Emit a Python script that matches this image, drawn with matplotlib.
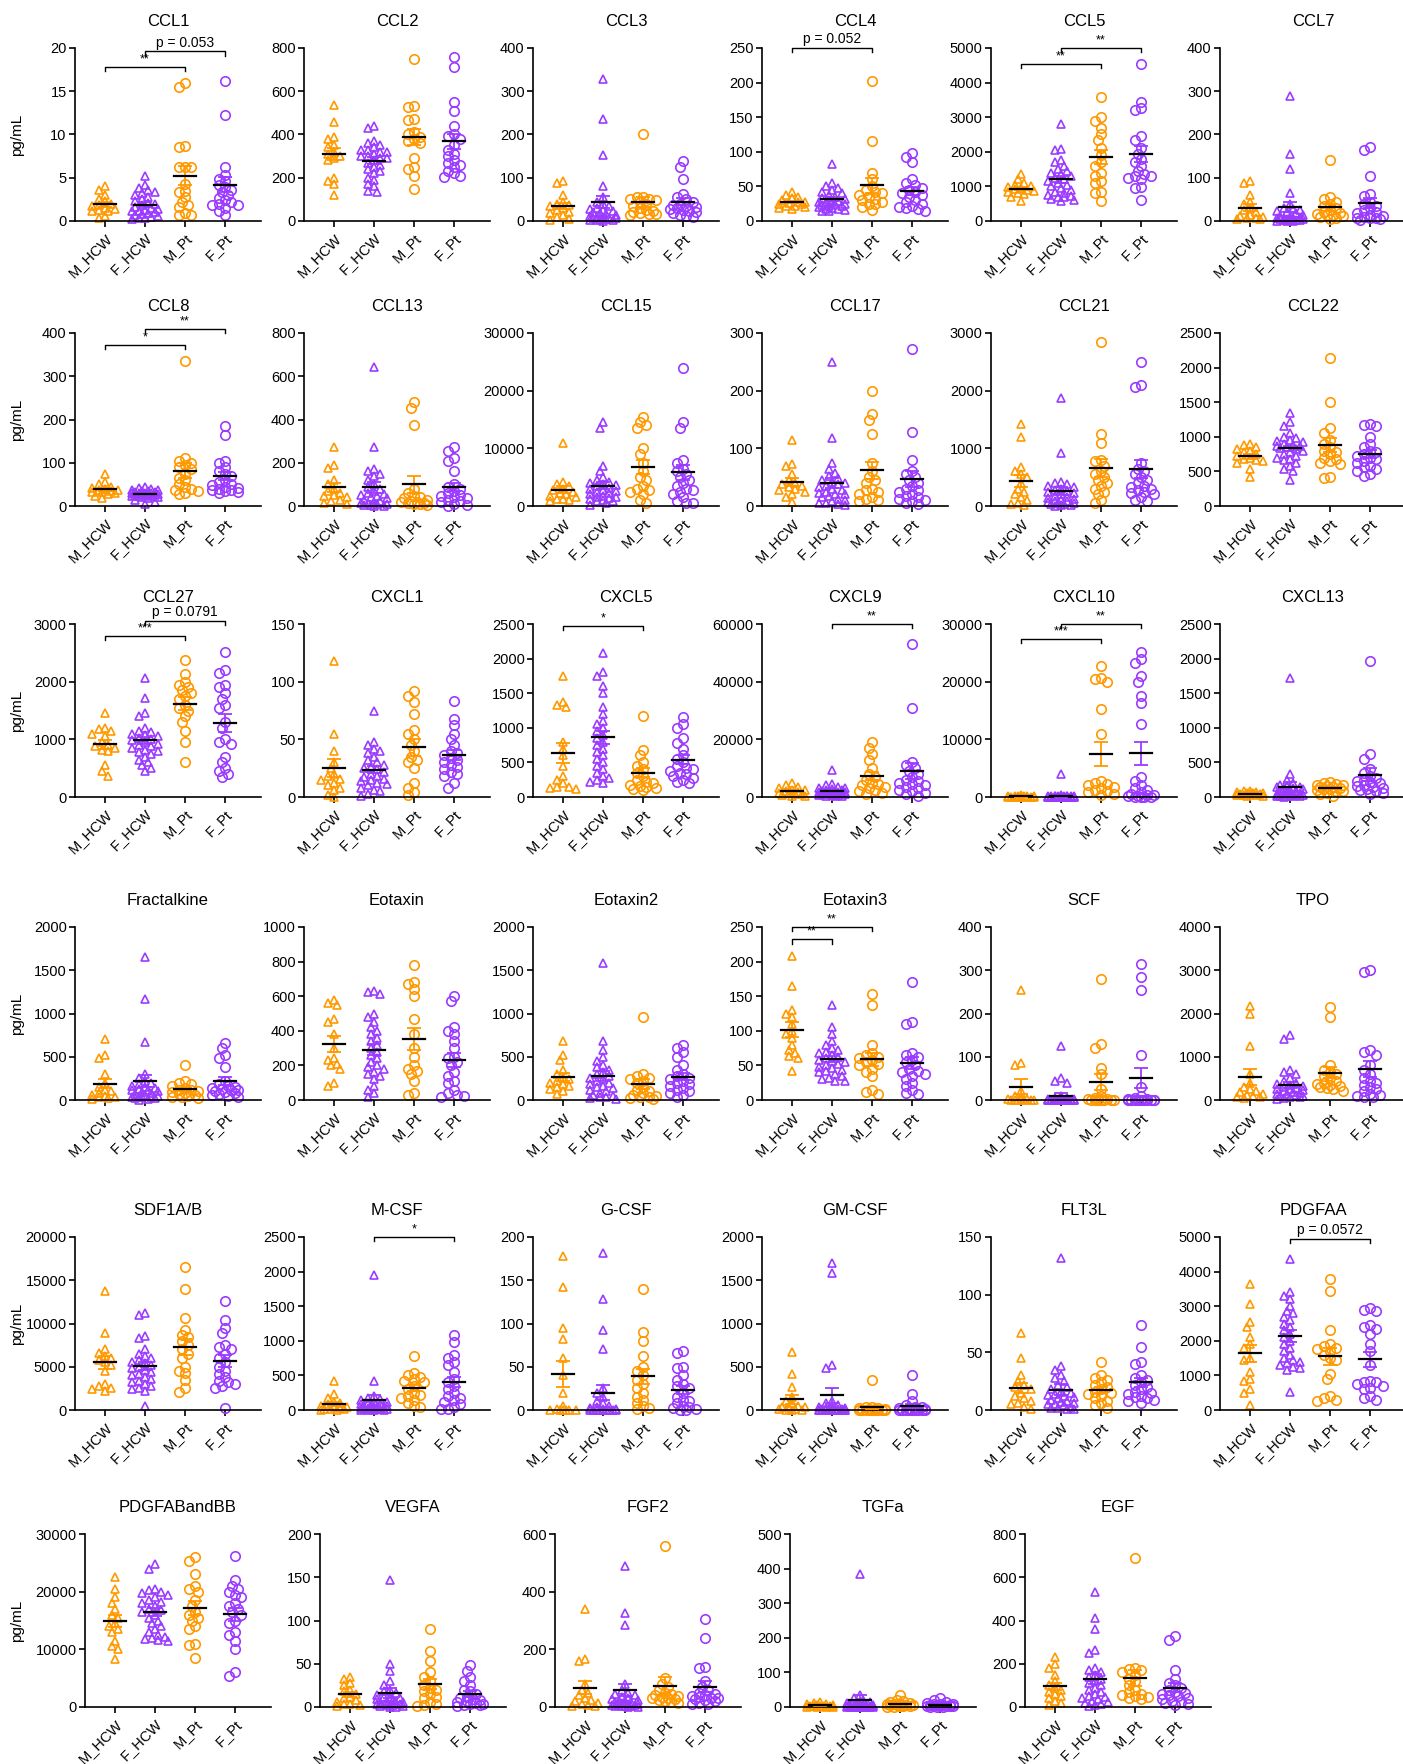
import numpy as np
import matplotlib
matplotlib.use("Agg")
import matplotlib.pyplot as plt

plt.rcParams['font.family'] = ['Liberation Sans', 'DejaVu Sans']

# groups: M_HCW, F_HCW, M_Pt, F_Pt
groups = ["M_HCW", "F_HCW", "M_Pt", "F_Pt"]
orange = "#FF9900"
purple = "#9B3BFF"
colors = [orange, purple, orange, purple]
markers = ["^", "^", "o", "o"]

ccl1 = [[4.0, 3.6, 3.0, 2.6, 2.3, 2.0, 1.9, 1.7, 1.5, 1.4, 1.3, 1.2, 1.2, 0.6, 0.4],
        [5.2, 4.2, 3.8, 3.6, 3.4, 3.2, 3.0, 2.8, 2.5, 2.3, 2.1, 2.0, 1.8, 1.6, 1.5, 1.4, 1.3, 1.2, 1.1, 1.0, 0.9, 0.8, 0.7, 0.6, 0.5, 0.4, 0.3, 0.2],
        [16.0, 15.5, 8.7, 8.6, 6.3, 6.2, 6.2, 4.3, 3.5, 3.3, 2.8, 2.2, 1.9, 1.6, 0.9, 0.7, 0.7],
        [16.2, 12.3, 6.3, 5.3, 4.9, 4.6, 4.2, 3.9, 3.6, 3.3, 3.0, 2.7, 2.4, 2.2, 2.0, 1.9, 1.8, 1.5, 1.2, 0.7]]
ccl2 = [[535, 460, 390, 380, 350, 340, 320, 310, 300, 290, 280, 200, 185, 170, 120],
        [440, 430, 370, 360, 350, 340, 330, 330, 320, 320, 310, 300, 300, 290, 290, 280, 270, 260, 250, 240, 230, 220, 200, 190, 170, 160, 140, 135],
        [750, 530, 525, 470, 465, 410, 400, 390, 380, 370, 360, 290, 250, 240, 210, 150],
        [760, 710, 550, 510, 440, 400, 395, 380, 350, 330, 310, 300, 280, 270, 260, 250, 230, 220, 210, 205]]
ccl3 = [[92, 88, 60, 45, 40, 38, 35, 30, 25, 20, 18, 15, 10, 5, 2],
        [328, 235, 152, 80, 55, 45, 40, 35, 30, 28, 25, 22, 20, 18, 16, 14, 12, 10, 9, 8, 7, 6, 5, 4, 3, 2, 2, 1],
        [202, 55, 55, 52, 50, 48, 45, 40, 35, 30, 25, 22, 20, 18, 17, 16, 15],
        [138, 125, 98, 62, 55, 50, 45, 40, 38, 35, 32, 30, 28, 25, 22, 20, 18, 15, 12, 10]]
ccl4 = [[42, 38, 35, 33, 30, 28, 27, 26, 25, 24, 22, 21, 20, 19, 18],
        [83, 55, 50, 48, 45, 42, 40, 38, 35, 33, 32, 30, 29, 28, 27, 26, 25, 24, 23, 22, 21, 20, 19, 18, 17, 16, 15, 14],
        [203, 115, 70, 60, 50, 45, 42, 40, 38, 35, 32, 30, 28, 25, 24, 20, 16],
        [98, 92, 85, 60, 55, 52, 48, 45, 42, 40, 38, 35, 30, 27, 24, 21, 20, 19, 17, 15]]
ccl5 = [[1350, 1200, 1100, 1050, 1000, 980, 950, 920, 900, 880, 850, 800, 780, 700, 580],
        [2800, 2080, 2050, 1750, 1700, 1600, 1500, 1450, 1400, 1350, 1300, 1250, 1200, 1150, 1100, 1050, 1000, 950, 900, 850, 800, 750, 720, 700, 680, 650, 600, 580],
        [3580, 3020, 2880, 2700, 2500, 2330, 2100, 1900, 1700, 1600, 1400, 1300, 1150, 1100, 850, 800, 580],
        [4550, 3450, 3270, 3220, 2450, 2350, 2100, 1950, 1800, 1700, 1600, 1450, 1350, 1300, 1300, 1250, 1200, 980, 960, 620]]
ccl7 = [[92, 88, 60, 45, 40, 30, 25, 20, 15, 12, 10, 8, 6, 5, 4],
        [288, 155, 120, 65, 40, 30, 28, 25, 22, 20, 18, 15, 12, 10, 9, 8, 7, 6, 5, 5, 4, 3, 3, 2, 2, 1, 1, 1],
        [140, 55, 50, 45, 40, 35, 30, 25, 20, 18, 16, 15, 14, 12, 10, 8, 5],
        [170, 165, 105, 62, 58, 45, 40, 35, 30, 25, 20, 18, 15, 12, 10, 8, 7, 6, 4, 2]]
ccl8 = [[75, 55, 50, 45, 42, 40, 38, 36, 35, 33, 32, 30, 28, 22, 18],
        [45, 42, 40, 38, 36, 35, 34, 33, 32, 31, 30, 30, 29, 28, 28, 27, 26, 25, 25, 24, 23, 22, 21, 20, 18, 15, 10, 5],
        [335, 110, 105, 100, 95, 90, 85, 75, 65, 60, 50, 45, 40, 38, 35, 30, 28],
        [185, 165, 105, 100, 90, 80, 75, 70, 60, 55, 50, 48, 45, 42, 40, 38, 36, 35, 33, 30]]
ccl13 = [[275, 190, 175, 120, 100, 80, 70, 60, 50, 45, 40, 30, 25, 15, 10],
         [645, 275, 170, 160, 150, 140, 120, 100, 90, 80, 70, 60, 55, 50, 45, 40, 35, 30, 25, 20, 15, 12, 10, 8, 6, 4, 2, 1],
         [480, 455, 375, 80, 60, 45, 40, 35, 30, 25, 20, 18, 15, 12, 10, 8, 5],
         [275, 255, 220, 210, 160, 100, 90, 80, 70, 60, 50, 45, 40, 35, 30, 25, 20, 10, 5, 2]]
ccl15 = [[11000, 4200, 3800, 3500, 3000, 2800, 2500, 2200, 2000, 1800, 1500, 1300, 1200, 1000, 900],
         [14500, 13500, 7000, 6000, 5000, 4500, 4200, 4000, 3800, 3600, 3400, 3200, 3000, 2800, 2600, 2400, 2200, 2000, 1800, 1600, 1500, 1400, 1200, 1000, 900, 800, 600, 200],
         [15500, 14500, 14000, 13500, 10000, 9000, 7500, 6000, 5000, 4500, 3500, 3000, 2800, 2500, 2000, 1000, 500],
         [24000, 14500, 13500, 8000, 7500, 6500, 6000, 5500, 5000, 4500, 4000, 3500, 3000, 2800, 2500, 2000, 1500, 800, 600, 500]]
ccl17 = [[115, 72, 70, 55, 45, 40, 38, 35, 33, 30, 28, 25, 20, 15, 7],
         [250, 118, 75, 65, 58, 52, 48, 45, 42, 40, 38, 35, 33, 30, 28, 25, 23, 21, 20, 18, 15, 12, 10, 8, 6, 5, 3, 2],
         [200, 160, 150, 125, 75, 60, 50, 45, 40, 30, 28, 25, 20, 15, 12, 10, 8],
         [272, 128, 80, 60, 55, 50, 45, 40, 35, 30, 28, 25, 20, 18, 15, 12, 10, 8, 5, 3]]
ccl21 = [[1430, 1200, 680, 600, 550, 500, 400, 300, 250, 200, 150, 100, 60, 30, 10],
         [1870, 920, 420, 400, 380, 350, 330, 300, 280, 260, 240, 220, 200, 180, 160, 140, 120, 100, 90, 80, 70, 60, 50, 40, 30, 20, 10, 5],
         [2850, 1250, 1100, 800, 780, 700, 600, 550, 500, 450, 400, 350, 300, 250, 200, 100, 50],
         [2500, 2100, 2070, 750, 650, 600, 550, 500, 450, 400, 350, 330, 300, 280, 250, 220, 200, 150, 100, 80]]
ccl22 = [[900, 880, 850, 820, 800, 780, 750, 720, 700, 680, 660, 650, 620, 540, 420],
         [1350, 1220, 1150, 1050, 1000, 980, 960, 940, 920, 900, 880, 870, 860, 850, 840, 830, 800, 780, 750, 720, 700, 680, 660, 620, 580, 540, 500, 380],
         [2140, 1510, 1120, 1060, 950, 900, 850, 800, 780, 750, 700, 680, 650, 620, 600, 420, 400],
         [1180, 1170, 1150, 1000, 900, 850, 800, 780, 750, 720, 700, 680, 650, 620, 580, 560, 540, 500, 460, 440]]
ccl27 = [[1450, 1200, 1180, 1150, 1100, 1050, 950, 900, 880, 850, 820, 800, 550, 450, 370],
         [2070, 1720, 1450, 1400, 1200, 1150, 1120, 1100, 1080, 1050, 1020, 1000, 980, 950, 920, 900, 880, 850, 820, 800, 780, 750, 700, 650, 600, 550, 500, 450],
         [2380, 2130, 2000, 1950, 1900, 1850, 1800, 1750, 1700, 1600, 1550, 1500, 1400, 1300, 1150, 960, 600],
         [2520, 2200, 2150, 1950, 1900, 1800, 1700, 1600, 1550, 1300, 1200, 1000, 950, 920, 700, 600, 500, 450, 400, 340]]
cxcl1 = [[118, 55, 40, 30, 25, 20, 18, 16, 15, 12, 10, 8, 6, 2, 0],
         [75, 48, 45, 42, 40, 38, 35, 32, 30, 28, 26, 25, 24, 22, 20, 18, 17, 16, 15, 14, 12, 11, 10, 8, 6, 5, 3, 1],
         [92, 88, 82, 72, 58, 55, 50, 45, 40, 35, 32, 30, 25, 12, 8, 4, 2],
         [83, 68, 62, 55, 50, 45, 40, 38, 36, 34, 32, 30, 28, 26, 24, 22, 20, 18, 12, 8]]
cxcl5 = [[1750, 1380, 1330, 1300, 800, 700, 600, 450, 300, 250, 200, 150, 140, 130, 120],
         [2080, 1800, 1750, 1600, 1500, 1300, 1200, 1100, 1050, 1000, 950, 900, 850, 800, 750, 700, 650, 600, 550, 500, 450, 400, 350, 300, 280, 250, 220, 200],
         [1170, 680, 600, 500, 450, 400, 350, 300, 250, 220, 200, 180, 160, 150, 130, 110, 100],
         [1150, 1050, 1000, 850, 780, 700, 600, 550, 500, 450, 420, 400, 380, 350, 330, 300, 280, 250, 220, 200]]
cxcl9 = [[4800, 4000, 3500, 3000, 2600, 2300, 2000, 1800, 1500, 1300, 1100, 900, 700, 500, 300],
         [9500, 4500, 4000, 3500, 3200, 3000, 2800, 2600, 2400, 2200, 2000, 1900, 1800, 1700, 1600, 1500, 1400, 1300, 1200, 1100, 1000, 900, 800, 700, 600, 500, 400, 300],
         [19000, 17000, 15000, 13000, 10000, 8000, 7000, 6000, 5000, 4500, 4000, 3500, 3000, 2500, 2000, 1500, 1000],
         [53000, 31000, 12000, 11000, 10000, 9000, 8000, 7000, 6000, 5500, 5000, 4500, 4000, 3500, 3000, 2500, 2000, 1500, 1000, 500]]
cxcl10 = [[300, 250, 200, 150, 120, 100, 90, 80, 70, 60, 50, 40, 30, 20, 10],
          [4000, 300, 250, 200, 180, 160, 150, 140, 130, 120, 110, 100, 90, 80, 70, 60, 50, 40, 30, 25, 20, 15, 10, 8, 6, 4, 2, 1],
          [22800, 20700, 20500, 20000, 15200, 11000, 2800, 2500, 2200, 2000, 1800, 1500, 1200, 1000, 800, 600, 400],
          [25200, 24000, 23300, 21000, 20000, 17500, 16300, 12700, 3400, 2800, 2000, 1500, 1200, 900, 600, 400, 300, 200, 100, 80, 60, 50, 40]]
cxcl13 = [[90, 80, 75, 70, 65, 60, 55, 50, 45, 40, 35, 30, 25, 20, 15],
          [1720, 330, 250, 200, 180, 160, 150, 140, 130, 120, 110, 100, 90, 80, 70, 60, 50, 45, 40, 35, 30, 25, 20, 15, 12, 10, 8, 5],
          [210, 200, 190, 180, 170, 160, 150, 140, 130, 120, 110, 100, 90, 80, 60, 40, 20],
          [1970, 620, 550, 400, 350, 300, 280, 250, 230, 210, 200, 180, 160, 150, 130, 110, 100, 80, 60, 40]]
fractalkine = [[700, 520, 480, 300, 200, 150, 120, 100, 80, 60, 50, 40, 30, 20, 10],
               [1650, 1170, 670, 300, 250, 220, 200, 180, 160, 150, 140, 130, 120, 110, 100, 90, 80, 70, 60, 50, 45, 40, 35, 30, 25, 20, 10, 5],
               [400, 220, 200, 180, 160, 140, 120, 110, 100, 90, 80, 70, 60, 50, 40, 30, 20],
               [660, 600, 520, 480, 380, 220, 180, 160, 150, 140, 130, 120, 110, 100, 90, 80, 70, 60, 50, 40]]
eotaxin = [[580, 560, 550, 470, 450, 380, 300, 240, 230, 210, 200, 180, 100, 80],
           [630, 625, 610, 500, 480, 450, 420, 400, 380, 360, 340, 320, 300, 280, 260, 240, 220, 200, 190, 180, 160, 150, 140, 120, 80, 60, 40, 20],
           [780, 680, 670, 640, 600, 470, 380, 300, 250, 200, 180, 170, 150, 110, 40, 30],
           [600, 570, 420, 400, 380, 340, 300, 250, 240, 220, 200, 160, 140, 110, 100, 60, 40, 30, 25, 20]]
eotaxin2 = [[680, 520, 460, 350, 300, 250, 240, 220, 200, 180, 160, 150, 130, 100, 70],
            [1580, 680, 580, 500, 450, 400, 380, 350, 320, 300, 280, 260, 240, 220, 200, 180, 160, 150, 140, 120, 100, 80, 60, 50, 40, 30, 20, 10],
            [960, 300, 280, 260, 240, 220, 200, 150, 120, 100, 80, 60, 50, 40, 30, 20, 10],
            [640, 600, 550, 500, 400, 350, 300, 280, 260, 240, 220, 200, 180, 160, 140, 120, 100, 80, 60, 30]]
eotaxin3 = [[208, 165, 130, 125, 120, 110, 100, 95, 90, 80, 72, 68, 63, 60, 42],
            [137, 105, 95, 85, 80, 75, 72, 70, 68, 65, 62, 60, 58, 56, 55, 52, 50, 48, 46, 44, 42, 40, 38, 35, 32, 30, 28, 27],
            [153, 137, 80, 68, 65, 62, 60, 58, 55, 52, 50, 45, 40, 35, 15, 12, 8],
            [170, 113, 110, 68, 65, 62, 58, 55, 50, 45, 42, 40, 38, 35, 30, 25, 20, 15, 10, 8]]
scf = [[255, 85, 80, 20, 10, 5, 3, 2, 1, 1, 0.5, 0.5, 0.2, 0.1, 0],
       [125, 50, 45, 40, 10, 5, 4, 3, 2, 2, 1, 1, 1, 0.5, 0.5, 0.5, 0.3, 0.2, 0.1, 0, 0, 0, 0, 0, 0, 0, 0, 0],
       [280, 130, 120, 75, 60, 25, 10, 5, 3, 2, 1, 1, 0.5, 0.2, 0, 0, 0],
       [315, 285, 255, 105, 30, 10, 5, 3, 2, 1, 1, 0.5, 0.5, 0.2, 0, 0, 0, 0, 0, 0]]
tpo = [[2180, 1980, 1250, 600, 400, 300, 250, 200, 180, 150, 120, 100, 80, 60, 40],
       [1500, 1420, 700, 650, 600, 500, 450, 400, 380, 350, 320, 300, 280, 260, 250, 230, 200, 180, 160, 150, 140, 120, 100, 90, 80, 60, 40, 20],
       [2150, 1920, 800, 700, 650, 600, 550, 500, 450, 400, 380, 350, 320, 300, 280, 250, 200],
       [3000, 2950, 1150, 1100, 1050, 800, 700, 600, 500, 450, 400, 350, 300, 250, 200, 150, 120, 100, 80, 60]]
sdf1ab = [[13800, 8900, 7000, 6600, 6200, 6000, 5800, 5500, 5200, 4500, 3000, 2800, 2600, 2400, 2200],
          [11200, 11000, 8500, 8300, 7000, 6500, 6200, 6000, 5800, 5600, 5400, 5200, 5000, 4800, 4600, 4400, 4200, 4000, 3800, 3600, 3400, 3200, 3000, 2800, 2600, 2400, 2200, 500],
          [16500, 14000, 10600, 9300, 8700, 8400, 8000, 7500, 7000, 6500, 6000, 5000, 4500, 4300, 3500, 2500, 2100],
          [12600, 10400, 9500, 8900, 7500, 7300, 7100, 6500, 6000, 5500, 5000, 4500, 4200, 3800, 3400, 3200, 3000, 2800, 2600, 200]]
mcsf = [[420, 230, 180, 120, 100, 80, 60, 50, 40, 30, 20, 15, 10, 5, 2],
        [1950, 420, 200, 180, 160, 140, 120, 110, 100, 90, 80, 70, 60, 50, 45, 40, 35, 30, 25, 20, 15, 12, 10, 8, 5, 3, 2, 1],
        [780, 540, 500, 480, 450, 420, 400, 350, 300, 250, 220, 200, 180, 150, 100, 60, 40],
        [1080, 980, 800, 750, 700, 650, 550, 450, 400, 350, 300, 250, 200, 180, 150, 120, 80, 50, 20, 10]]
gcsf = [[178, 142, 95, 82, 60, 40, 20, 5, 1, 0, 0, 0, 0, 0, 0],
        [182, 128, 92, 70, 25, 20, 15, 10, 8, 5, 3, 2, 1, 1, 0.5, 0.5, 0, 0, 0, 0, 0, 0, 0, 0, 0, 0, 0, 0],
        [140, 90, 80, 62, 50, 45, 40, 35, 30, 25, 20, 15, 12, 8, 5, 2, 1],
        [68, 66, 50, 48, 40, 35, 30, 28, 25, 20, 15, 12, 10, 8, 5, 3, 2, 1, 0, 0]]
gmcsf = [[670, 420, 270, 150, 100, 80, 50, 40, 30, 20, 15, 10, 5, 2, 0],
         [1700, 1580, 520, 490, 100, 80, 60, 40, 30, 25, 20, 15, 10, 8, 6, 5, 4, 3, 2, 1, 1, 0, 0, 0, 0, 0, 0, 0],
         [350, 40, 30, 25, 20, 15, 10, 8, 5, 4, 3, 2, 1, 1, 0, 0, 0],
         [400, 190, 100, 60, 40, 30, 20, 15, 10, 8, 5, 4, 3, 2, 1, 1, 0, 0, 0, 0]]
flt3l = [[67, 45, 30, 25, 22, 20, 18, 15, 12, 10, 8, 6, 5, 3, 1],
         [132, 38, 35, 30, 28, 25, 22, 20, 18, 16, 15, 14, 13, 12, 11, 10, 9, 8, 7, 6, 5, 5, 4, 3, 2, 2, 1, 1],
         [42, 30, 28, 26, 24, 22, 20, 18, 16, 15, 14, 12, 10, 8, 6, 4, 2],
         [74, 55, 42, 40, 30, 28, 26, 24, 22, 20, 18, 16, 15, 14, 12, 11, 10, 9, 8, 6]]
pdgfaa = [[3650, 3050, 2550, 2400, 2100, 1900, 1800, 1500, 1450, 1100, 900, 850, 600, 500, 150],
          [4350, 3400, 3300, 3200, 3000, 2850, 2800, 2700, 2600, 2500, 2400, 2300, 2200, 2100, 2000, 1900, 1800, 1700, 1600, 1500, 1450, 1400, 1350, 1300, 1250, 1200, 1150, 520],
          [3780, 3450, 2300, 1900, 1850, 1800, 1750, 1700, 1600, 1500, 1450, 1050, 900, 400, 350, 300, 250],
          [2950, 2900, 2850, 2450, 2400, 2350, 2200, 1900, 1700, 1300, 850, 800, 800, 750, 700, 650, 600, 400, 350, 300]]
pdgfab_bb = [[22500, 20500, 19000, 18000, 17000, 16000, 15500, 14500, 14000, 13500, 13000, 11500, 10500, 10000, 8300],
             [24800, 24000, 20500, 20300, 20000, 19800, 19500, 19000, 18500, 18200, 18000, 17500, 17000, 16800, 16500, 16000, 15500, 15000, 14500, 14000, 13500, 13000, 12500, 12200, 12000, 11800, 11600, 11400],
             [26000, 25300, 23000, 21000, 20500, 20000, 18500, 17500, 16500, 16000, 15500, 15000, 14000, 13500, 11000, 10800, 8500],
             [26200, 22000, 21000, 20500, 20000, 19500, 19000, 18000, 17500, 17000, 16500, 16000, 15000, 14500, 13000, 12500, 11500, 10000, 6000, 5300]]
vegfa = [[35, 32, 28, 25, 20, 18, 15, 12, 10, 8, 6, 4, 3, 2, 1],
         [147, 50, 42, 30, 25, 20, 18, 16, 14, 12, 11, 10, 9, 8, 7, 6, 5, 5, 4, 4, 3, 3, 2, 2, 1, 1, 0.5, 0.5],
         [90, 65, 53, 40, 35, 30, 25, 22, 20, 18, 15, 12, 10, 6, 4, 2, 1],
         [48, 42, 35, 30, 25, 20, 18, 15, 12, 10, 9, 8, 7, 6, 5, 4, 3, 2, 2, 1]]
fgf2 = [[340, 165, 160, 80, 60, 50, 40, 30, 25, 20, 15, 10, 8, 5, 2],
        [490, 325, 285, 80, 60, 50, 45, 40, 35, 30, 28, 25, 22, 20, 18, 16, 14, 12, 10, 8, 7, 6, 5, 4, 3, 2, 1, 1],
        [560, 100, 80, 70, 60, 50, 45, 40, 38, 35, 32, 30, 28, 25, 20, 18, 15],
        [305, 240, 140, 135, 90, 70, 60, 50, 45, 40, 38, 35, 32, 30, 28, 25, 20, 15, 12, 10]]
tgfa = [[15, 12, 10, 8, 6, 5, 4, 3, 3, 2, 2, 1, 1, 0.5, 0],
        [385, 35, 25, 20, 15, 12, 10, 8, 7, 6, 5, 5, 4, 4, 3, 3, 2, 2, 2, 1, 1, 1, 0.5, 0.5, 0, 0, 0, 0],
        [35, 20, 18, 15, 12, 10, 9, 8, 7, 6, 5, 5, 4, 3, 2, 1, 1],
        [25, 20, 15, 12, 10, 9, 8, 7, 6, 5, 5, 4, 4, 3, 3, 2, 2, 1, 1, 0.5]]
egf = [[230, 200, 180, 150, 120, 100, 90, 80, 70, 60, 50, 40, 30, 20, 10],
       [530, 410, 360, 265, 250, 180, 170, 160, 150, 140, 130, 120, 110, 100, 90, 80, 70, 60, 50, 45, 40, 35, 30, 25, 20, 15, 10, 5],
       [690, 180, 175, 170, 160, 150, 130, 120, 100, 80, 70, 60, 55, 50, 45, 40, 35],
       [330, 310, 170, 130, 110, 100, 90, 80, 70, 65, 60, 55, 50, 40, 35, 30, 25, 20, 15, 10]]

titles = ["CCL1", "CCL2", "CCL3", "CCL4", "CCL5", "CCL7",
          "CCL8", "CCL13", "CCL15", "CCL17", "CCL21", "CCL22",
          "CCL27", "CXCL1", "CXCL5", "CXCL9", "CXCL10", "CXCL13",
          "Fractalkine", "Eotaxin", "Eotaxin2", "Eotaxin3", "SCF", "TPO",
          "SDF1A/B", "M-CSF", "G-CSF", "GM-CSF", "FLT3L", "PDGFAA",
          "PDGFABandBB", "VEGFA", "FGF2", "TGFa", "EGF"]
panel_data = [ccl1, ccl2, ccl3, ccl4, ccl5, ccl7,
              ccl8, ccl13, ccl15, ccl17, ccl21, ccl22,
              ccl27, cxcl1, cxcl5, cxcl9, cxcl10, cxcl13,
              fractalkine, eotaxin, eotaxin2, eotaxin3, scf, tpo,
              sdf1ab, mcsf, gcsf, gmcsf, flt3l, pdgfaa,
              pdgfab_bb, vegfa, fgf2, tgfa, egf]
y_max = [20, 800, 400, 250, 5000, 400,
         400, 800, 30000, 300, 3000, 2500,
         3000, 150, 2500, 60000, 30000, 2500,
         2000, 1000, 2000, 250, 400, 4000,
         20000, 2500, 200, 2000, 150, 5000,
         30000, 200, 600, 500, 800]
y_step = [5, 200, 100, 50, 1000, 100,
          100, 200, 10000, 100, 1000, 500,
          1000, 50, 500, 20000, 10000, 500,
          500, 200, 500, 50, 100, 1000,
          5000, 500, 50, 500, 50, 1000,
          10000, 50, 200, 100, 200]

# significance brackets: (panel, group a, group b, height, label)
brackets = [(0, 0, 2, 17.8, "**"), (0, 1, 3, 19.6, "p = 0.053"),
            (3, 0, 2, 250, "p = 0.052"),
            (4, 0, 2, 4540, "**"), (4, 1, 3, 5000, "**"),
            (6, 0, 2, 373, "*"), (6, 1, 3, 410, "**"),
            (12, 0, 2, 2790, "***"), (12, 1, 3, 3060, "p = 0.0791"),
            (14, 0, 2, 2475, "*"),
            (15, 1, 3, 60000, "**"),
            (16, 0, 2, 27400, "***"), (16, 1, 3, 30000, "**"),
            (21, 0, 1, 232, "**"), (21, 0, 2, 250, "**"),
            (25, 1, 3, 2500, "*"),
            (29, 1, 3, 4950, "p = 0.0572")]

W, H = 1403, 1764
fig = plt.figure(figsize=(W / 100, H / 100), dpi=100)

row_bottom = [221, 506, 797, 1100, 1410, 1707]
ax_h = 173
ax_w = 186
x_lo, x_hi = -0.75, 3.9


def swarm(vals, ymax):
    # spread points sideways where they overlap (pixel space)
    order = np.argsort(vals)[::-1]
    ys = np.asarray(vals, float) / ymax * ax_h
    step = 3.2
    cands = [0.0]
    for k in range(1, 5):
        cands += [-k * step, k * step]
    placed = []
    xs = np.zeros(len(vals))
    for i in order:
        best, best_d = None, -1
        for c in cands:
            d = min([np.hypot(c - px, ys[i] - py) for px, py in placed] or [99])
            if d >= 6.0:
                best = c
                break
            if d > best_d:
                best, best_d = c, d
        xs[i] = best
        placed.append((best, ys[i]))
    return xs / 40.0


for p, (title, data) in enumerate(zip(titles, panel_data)):
    r, c = divmod(p, 6)
    if r < 5:
        left = 75 + 229 * c
    else:
        left = 85 + 235 * c
    ax = fig.add_axes([left / W, 1 - row_bottom[r] / H, ax_w / W, ax_h / H])
    ymax = y_max[p]
    for g, vals in enumerate(data):
        vals = np.asarray(vals, float)
        xs = g + swarm(vals, ymax)
        ax.plot(xs, vals, linestyle="none", marker=markers[g], mfc="none",
                mec=colors[g], ms=6.8 if markers[g] == "o" else 6.3, mew=1.2,
                clip_on=False, zorder=2)
        m = vals.mean()
        sem = vals.std(ddof=1) / np.sqrt(len(vals))
        ax.errorbar(g, m, yerr=sem, color=colors[g], capsize=5, capthick=1.3,
                    elinewidth=1.3, zorder=3)
        ax.plot([g - 0.28, g + 0.28], [m, m], color="black", lw=1.6, zorder=4)
    ax.set_xlim(x_lo, x_hi)
    ax.set_ylim(0, ymax)
    ax.set_yticks(np.arange(0, ymax + y_step[p] / 2, y_step[p]))
    ax.set_xticks(range(4))
    ax.set_xticklabels(groups, rotation=45, ha="right", rotation_mode="anchor",
                       fontsize=10.5)
    ax.tick_params(axis="y", labelsize=10.5, length=4, width=1.2, pad=2)
    ax.tick_params(axis="x", length=4, width=1.2, pad=3)
    for s in ["top", "right"]:
        ax.spines[s].set_visible(False)
    for s in ["left", "bottom"]:
        ax.spines[s].set_linewidth(1.2)
    ax.set_title(title, fontsize=12, pad=16)
    if c == 0:
        fig.text(17 / W, 1 - (row_bottom[r] - ax_h / 2) / H, "pg/mL",
                 rotation=90, ha="center", va="center", fontsize=11)

    for bp, a, b, yb, lab in brackets:
        if bp != p:
            continue
        tick = ymax * 0.025
        ax.plot([a, a, b, b], [yb - tick, yb, yb, yb - tick], color="black",
                lw=1.0, clip_on=False)
        ax.text((a + b) / 2, yb + ymax * 0.01, lab, ha="center", va="bottom",
                fontsize=10 if lab.startswith("p") else 9)

fig.savefig("out.png", dpi=100)
